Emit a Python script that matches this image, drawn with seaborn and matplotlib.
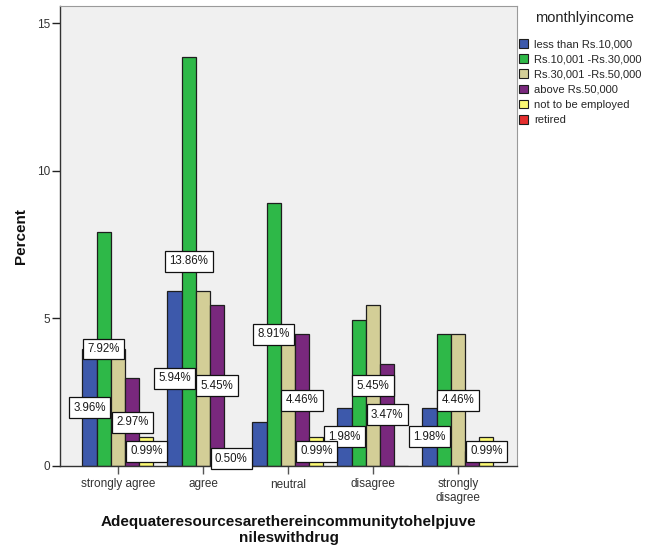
import matplotlib
matplotlib.use("Agg")
import matplotlib.pyplot as plt
from matplotlib.patches import Patch
import pandas as pd
import seaborn as sns

# Responses on the x axis
responses = ["strongly agree", "agree", "neutral", "disagree", "strongly\ndisagree"]

# Monthly income groups (legend order)
income_groups = [
    "less than Rs.10,000",
    "Rs.10,001 -Rs.30,000",
    "Rs.30,001 -Rs.50,000",
    "above Rs.50,000",
    "not to be employed",
    "retired",
]

# Percent of respondents per response, one list per income group
pct_less_10k = [3.96, 5.94, 1.49, 1.98, 1.98]
pct_10k_30k = [7.92, 13.86, 8.91, 4.95, 4.46]
pct_30k_50k = [3.96, 5.94, 4.46, 5.45, 4.46]
pct_above_50k = [2.97, 5.45, 4.46, 3.47, 0.50]
pct_not_employed = [0.99, 0.50, 0.99, 0.00, 0.99]
pct_retired = []  # no respondents in this group

# Which bars carry a value label
show_less_10k = [True, True, False, True, True]
show_10k_30k = [True, True, True, False, False]
show_30k_50k = [False, False, False, True, True]
show_above_50k = [True, True, True, True, False]
show_not_employed = [True, True, True, False, True]

colors = ["#3d59ab", "#2eb848", "#d3ce97", "#79287d", "#fbf873", "#e52e2e"]

series = [pct_less_10k, pct_10k_30k, pct_30k_50k, pct_above_50k, pct_not_employed]
flags = [show_less_10k, show_10k_30k, show_30k_50k, show_above_50k, show_not_employed]
plotted_groups = income_groups[:len(series)]

rows = []
for grp, vals in zip(plotted_groups, series):
    for resp, v in zip(responses, vals):
        rows.append({"response": resp, "income": grp, "percent": v})
df = pd.DataFrame(rows)

sns.set_style("white")
plt.rcParams["font.family"] = ["Liberation Sans", "DejaVu Sans"]

W, H = 647, 546
fig = plt.figure(figsize=(W / 100, H / 100), dpi=100)
ax_l, ax_r, ax_t, ax_b = 60, 517, 6, 466
ax = fig.add_axes([ax_l / W, 1 - ax_b / H, (ax_r - ax_l) / W, (ax_b - ax_t) / H])
ax.set_facecolor("#f0f0f0")

sns.barplot(
    data=df, x="response", y="percent", hue="income",
    order=responses, hue_order=plotted_groups,
    palette=colors[:len(series)], saturation=1, width=0.835,
    edgecolor="#1e1e1e", linewidth=0.9, legend=False, ax=ax,
)

# Value labels at half the bar height
for cont, vals, fl in zip(ax.containers, series, flags):
    for bar, v, f in zip(cont, vals, fl):
        if f:
            ax.text(
                bar.get_x() + bar.get_width() / 2, v / 2, f"{v:.2f}%",
                ha="center", va="center", fontsize=8.3, color="#1a1a1a",
                bbox=dict(boxstyle="square,pad=0.38", facecolor="white",
                          edgecolor="#111111", linewidth=0.9),
                zorder=5,
            )

ax.set_ylim(0, 15.58)
ax.set_xlim(-0.682, -0.682 + (ax_r - ax_l) / 85)
ax.set_yticks([0, 5, 10, 15])
ax.set_yticklabels(["0", "5", "10", "15"])

ax.tick_params(axis="y", length=6, width=1, color="#222222", labelsize=8.5,
               labelcolor="#333333", pad=1, left=True)
ax.tick_params(axis="x", length=6, width=1, color="#555555", labelsize=8.5,
               labelcolor="#333333", pad=3, bottom=True)

for side in ["left", "bottom"]:
    ax.spines[side].set_color("#333333")
    ax.spines[side].set_linewidth(1)
for side in ["top", "right"]:
    ax.spines[side].set_color("#9a9a9a")
    ax.spines[side].set_linewidth(0.8)

ax.set_ylabel("Percent", fontsize=11, fontweight="bold", color="#111111")
ax.yaxis.set_label_coords(-0.071, 0.5)
ax.set_xlabel("Adequateresourcesarethereincommunitytohelpjuve\nnileswithdrug",
              fontsize=11, fontweight="bold", color="#111111", linespacing=1.18)
ax.xaxis.set_label_coords(0.5, -0.106)

# Legend: title placed separately, entries below it
fig.text(584 / W, 1 - 18 / H, "monthlyincome", ha="center", va="center",
         fontsize=10.5, color="#222222")
handles = [Patch(facecolor=c, edgecolor="#1e1e1e", linewidth=0.8) for c in colors]
leg = fig.legend(
    handles, income_groups,
    loc="upper left", bbox_to_anchor=(519 / W, 1 - 39 / H),
    frameon=False, fontsize=8,
    handlelength=0.8, handleheight=0.8, handletextpad=0.55,
    labelspacing=0.46, borderaxespad=0, borderpad=0,
)

fig.savefig("out.png", dpi=100, facecolor="white")
